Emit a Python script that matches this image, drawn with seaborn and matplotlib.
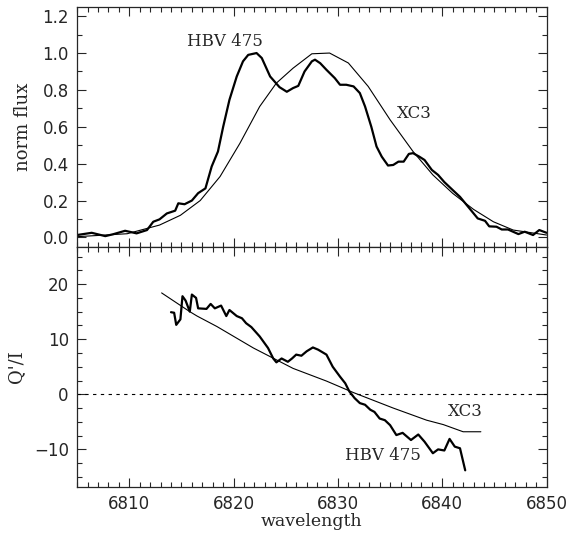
import numpy as np
import matplotlib
matplotlib.use("Agg")
import matplotlib.pyplot as plt
import seaborn as sns
from matplotlib.ticker import MultipleLocator

# top panel: normalised flux
hbv_wave = [6805.0, 6806.4, 6807.7, 6808.5, 6809.6, 6810.7, 6811.7, 6812.3, 6812.9, 6813.6,
            6814.4, 6814.7, 6815.3, 6816.0, 6816.6, 6817.3, 6817.9, 6818.5, 6819.0, 6819.6,
            6820.3, 6820.9, 6821.4, 6822.2, 6822.7, 6823.5, 6824.4, 6825.1, 6825.7, 6826.2,
            6826.8, 6827.5, 6827.8, 6828.3, 6828.9, 6829.7, 6830.2, 6830.8, 6831.5, 6832.1,
            6832.6, 6833.2, 6833.7, 6834.2, 6834.8, 6835.3, 6835.8, 6836.3, 6836.8, 6837.2,
            6837.8, 6838.3, 6839.0, 6839.6, 6840.2, 6841.0, 6841.7, 6842.6, 6843.4, 6844.1,
            6844.5, 6845.2, 6845.7, 6846.3, 6847.3, 6847.9, 6848.7, 6849.3, 6850.0]
hbv_flux = [0.013, 0.025, 0.007, 0.018, 0.036, 0.022, 0.040, 0.085, 0.098, 0.130,
            0.145, 0.185, 0.180, 0.200, 0.240, 0.266, 0.385, 0.466, 0.600, 0.746,
            0.873, 0.955, 0.990, 1.000, 0.973, 0.873, 0.815, 0.790, 0.810, 0.822,
            0.900, 0.955, 0.964, 0.945, 0.909, 0.864, 0.828, 0.828, 0.819, 0.783,
            0.710, 0.600, 0.493, 0.438, 0.390, 0.393, 0.411, 0.411, 0.453, 0.457,
            0.438, 0.420, 0.366, 0.339, 0.300, 0.257, 0.220, 0.158, 0.103, 0.090,
            0.060, 0.058, 0.043, 0.043, 0.018, 0.031, 0.013, 0.040, 0.025]

xc3_wave = [6805.0, 6809.8, 6812.9, 6814.9, 6816.8, 6818.7, 6820.6, 6822.5, 6824.1, 6825.7,
            6827.5, 6829.2, 6831.0, 6832.9, 6835.0, 6837.2, 6839.1, 6841.0, 6843.0, 6844.9,
            6846.8, 6850.0]
xc3_flux = [0.004, 0.020, 0.067, 0.120, 0.200, 0.330, 0.510, 0.710, 0.837, 0.918,
            0.996, 1.000, 0.946, 0.819, 0.638, 0.466, 0.339, 0.239, 0.152, 0.085,
            0.040, 0.013]

# bottom panel: Q'/I
hbv_q_wave = [6814.0, 6814.3, 6814.5, 6814.9, 6815.1, 6815.4, 6815.8, 6816.0, 6816.4, 6816.6,
              6817.4, 6817.8, 6818.2, 6818.8, 6819.3, 6819.6, 6820.3, 6820.8, 6821.2, 6821.7,
              6822.5, 6823.3, 6823.8, 6824.1, 6824.6, 6825.2, 6825.6, 6826.0, 6826.5, 6827.0,
              6827.6, 6828.1, 6828.9, 6829.5, 6830.2, 6830.7, 6831.1, 6831.6, 6832.1, 6832.6,
              6833.1, 6833.5, 6834.0, 6834.5, 6835.0, 6835.6, 6836.2, 6837.0, 6837.7, 6838.3,
              6839.1, 6839.6, 6840.2, 6840.7, 6841.2, 6841.7, 6842.2]
hbv_q = [14.9, 14.8, 12.6, 13.6, 17.8, 17.0, 15.0, 18.1, 17.5, 15.6,
         15.5, 16.4, 15.6, 16.1, 14.2, 15.3, 14.2, 13.8, 12.9, 12.2,
         10.5, 8.4, 6.5, 5.8, 6.5, 5.9, 6.5, 7.2, 7.0, 7.8,
         8.5, 8.1, 7.2, 5.0, 3.2, 2.0, 0.5, -0.7, -1.6, -1.9,
         -2.8, -3.2, -4.4, -4.7, -5.6, -7.4, -7.0, -8.3, -7.3, -8.6,
         -10.7, -10.0, -10.2, -8.1, -9.5, -9.8, -13.8]

xc3_q_wave = [6813.1, 6815.8, 6816.5, 6818.4, 6821.9, 6825.7, 6828.9, 6831.5, 6835.3, 6838.5,
              6840.1, 6842.0, 6843.7]
xc3_q = [18.4, 15.0, 14.2, 12.3, 8.4, 4.7, 2.4, 0.3, -2.5, -4.7,
         -5.5, -6.8, -6.8]

sns.set_style("ticks")
plt.rcParams["font.family"] = ["DejaVu Serif"]
plt.rcParams["mathtext.fontset"] = "dejavuserif"

fig = plt.figure(figsize=(5.67, 5.35), dpi=100)
ax1 = fig.add_axes([0.136, 0.539, 0.828, 0.448])
ax2 = fig.add_axes([0.136, 0.090, 0.828, 0.449])

sns.lineplot(x=hbv_wave, y=hbv_flux, ax=ax1, color="black", lw=1.6, sort=False)
sns.lineplot(x=xc3_wave, y=xc3_flux, ax=ax1, color="black", lw=0.8, sort=False)
ax1.text(6819.2, 1.063, "HBV 475", ha="center", va="center", fontsize=12)
ax1.text(6837.3, 0.674, "XC3", ha="center", va="center", fontsize=12)

sns.lineplot(x=hbv_q_wave, y=hbv_q, ax=ax2, color="black", lw=1.6, sort=False)
sns.lineplot(x=xc3_q_wave, y=xc3_q, ax=ax2, color="black", lw=0.8, sort=False)
ax2.axhline(0, color="black", lw=0.8, ls=(0, (3, 4)))
ax2.text(6842.2, -3.15, "XC3", ha="center", va="center", fontsize=12)
ax2.text(6834.3, -11.2, "HBV 475", ha="center", va="center", fontsize=12)

ax1.set_xlim(6805, 6850)
ax2.set_xlim(6805, 6850)
ax1.set_ylim(-0.05, 1.25)
ax2.set_ylim(-16.8, 26.8)

ax1.yaxis.set_major_locator(MultipleLocator(0.2))
ax1.yaxis.set_minor_locator(MultipleLocator(0.1))
ax2.yaxis.set_major_locator(MultipleLocator(10))
ax2.yaxis.set_minor_locator(MultipleLocator(2.5))
for ax in (ax1, ax2):
    ax.xaxis.set_major_locator(MultipleLocator(10))
    ax.xaxis.set_minor_locator(MultipleLocator(1))
    ax.tick_params(which="both", direction="in", top=True, right=True, width=0.8,
                   labelsize=12, labelfontfamily="DejaVu Sans", pad=6)
    ax.tick_params(which="major", length=6.5)
    ax.tick_params(which="minor", length=3.5)
    for s in ax.spines.values():
        s.set_linewidth(0.9)
        s.set_visible(True)

ax1.tick_params(labelbottom=False)
ax1.set_ylabel("norm flux", fontsize=13)
ax2.set_ylabel("Q'/I", fontsize=13)
ax2.set_xlabel("wavelength", fontsize=12.5, labelpad=0)
ax1.yaxis.set_label_coords(-0.096, 0.5)
ax2.yaxis.set_label_coords(-0.11, 0.5)

fig.savefig("out.png", dpi=100)
